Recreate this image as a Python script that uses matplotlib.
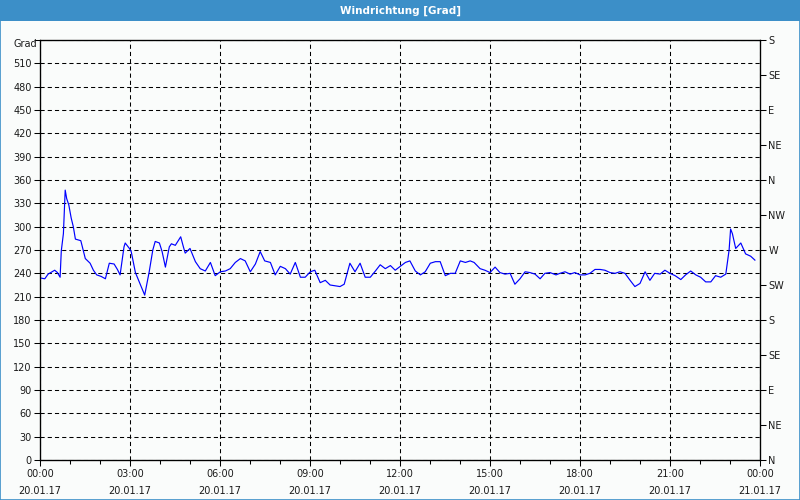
import numpy as np
import matplotlib
matplotlib.use("Agg")
import matplotlib.pyplot as plt
from matplotlib.patches import Rectangle
from matplotlib.ticker import MultipleLocator

plt.rcParams['font.family'] = ['DejaVu Sans']
plt.rcParams['lines.scale_dashes'] = False

# time of day in hours (20.01.17), wind direction in degrees
hours = [0.02, 0.16, 0.27, 0.36, 0.49, 0.58, 0.67, 0.71, 0.78, 0.84,
         0.89, 0.96, 1.04, 1.11, 1.18, 1.36, 1.44, 1.51, 1.67, 1.78,
         1.89, 2.04, 2.18, 2.31, 2.47, 2.58, 2.67, 2.80, 2.84, 2.98,
         3.04, 3.18, 3.33, 3.49, 3.64, 3.76, 3.84, 3.98, 4.07, 4.18,
         4.31, 4.38, 4.51, 4.69, 4.78, 4.84, 5.00, 5.18, 5.34, 5.51,
         5.68, 5.84, 6.01, 6.18, 6.34, 6.51, 6.68, 6.84, 7.01, 7.18,
         7.34, 7.49, 7.68, 7.84, 8.01, 8.18, 8.34, 8.51, 8.68, 8.84,
         9.01, 9.16, 9.34, 9.51, 9.67, 9.83, 10.00, 10.14, 10.33, 10.50,
         10.67, 10.84, 11.01, 11.18, 11.34, 11.51, 11.68, 11.84, 12.01, 12.18,
         12.33, 12.51, 12.68, 12.84, 13.01, 13.18, 13.34, 13.51, 13.68, 13.84,
         14.01, 14.18, 14.34, 14.47, 14.67, 14.83, 15.00, 15.17, 15.33, 15.50,
         15.67, 15.83, 16.00, 16.17, 16.33, 16.50, 16.67, 16.83, 17.00, 17.20,
         17.33, 17.50, 17.67, 17.83, 18.00, 18.17, 18.33, 18.50, 18.67, 18.83,
         19.00, 19.17, 19.33, 19.50, 19.67, 19.83, 20.00, 20.17, 20.33, 20.49,
         20.67, 20.83, 21.00, 21.17, 21.36, 21.52, 21.69, 21.86, 22.02, 22.19,
         22.36, 22.52, 22.69, 22.86, 22.97, 23.02, 23.08, 23.19, 23.36, 23.52,
         23.69, 23.83]
degrees = [234, 233, 239, 241, 244, 241, 235, 269, 291, 347,
           336, 328, 311, 300, 284, 282, 270, 259, 253, 244,
           238, 236, 233, 253, 252, 245, 238, 274, 279, 272,
           268, 241, 227, 212, 242, 270, 281, 279, 268, 248,
           274, 278, 276, 287, 274, 266, 272, 255, 246, 243,
           254, 237, 242, 243, 246, 254, 259, 256, 242, 252,
           268, 256, 254, 238, 249, 246, 239, 254, 235, 235,
           242, 244, 228, 231, 225, 224, 223, 226, 253, 242,
           253, 235, 235, 243, 251, 246, 250, 244, 249, 254,
           256, 243, 238, 242, 253, 255, 255, 237, 240, 240,
           256, 254, 256, 254, 246, 244, 241, 248, 241, 239,
           240, 226, 233, 242, 241, 239, 233, 240, 241, 238,
           240, 242, 239, 241, 238, 238, 240, 245, 245, 244,
           241, 240, 242, 240, 231, 223, 227, 242, 231, 240,
           239, 244, 240, 237, 232, 238, 243, 238, 235, 229,
           229, 237, 235, 239, 270, 297, 291, 272, 279, 265,
           262, 257]

time_labels = ["00:00", "03:00", "06:00", "09:00", "12:00",
               "15:00", "18:00", "21:00", "00:00"]
date_labels = ["20.01.17"] * 8 + ["21.01.17"]
compass = ["N", "NE", "E", "SE", "S", "SW", "W", "NW",
           "N", "NE", "E", "SE", "S"]

blue_bar = "#3c8fc8"
bg = "#fafcfb"

fig = plt.figure(figsize=(8, 5), dpi=100, facecolor=bg)
# title bar and frame
fig.patches.append(Rectangle((0, 1 - 21 / 500), 1, 21 / 500, transform=fig.transFigure,
                             facecolor=blue_bar, edgecolor="none", zorder=0))
fig.patches.append(Rectangle((0.0006, 0.001), 0.9988, 0.998, transform=fig.transFigure,
                             facecolor="none", edgecolor=blue_bar, lw=1.2, zorder=1))
fig.text(0.5, 1 - 10.5 / 500, "Windrichtung [Grad]", color="white", fontsize=7.5,
         fontweight="bold", ha="center", va="center")

ax = fig.add_axes([40 / 800, 40 / 500, 720 / 800, 420 / 500])
ax.set_facecolor(bg)
ax.plot(hours, degrees, color="#0000ff", lw=0.85, zorder=3)

ax.set_xlim(0, 24)
ax.set_ylim(0, 540)
ax.set_xticks(np.arange(0, 25, 3))
ax.set_xticklabels([f"{t}\n{d}" for t, d in zip(time_labels, date_labels)], linespacing=1.85)
ax.xaxis.set_minor_locator(MultipleLocator(1))
ax.set_yticks(np.arange(0, 541, 30))
ax.set_yticklabels([str(v) if v < 540 else "" for v in range(0, 541, 30)])

ax.grid(True, which="major", color="black", lw=0.75, linestyle=(0, (3, 2.2)))
ax.tick_params(axis="both", which="major", labelsize=7, length=4, width=0.75,
               color="black", labelcolor="#1a1a1a", pad=2)
ax.tick_params(axis="x", which="major", pad=2.5)
ax.tick_params(axis="x", which="minor", length=3, width=0.75)
for s in ax.spines.values():
    s.set_linewidth(0.9)
    s.set_color("black")

ax2 = ax.twinx()
ax2.set_ylim(0, 540)
ax2.set_yticks(np.arange(0, 541, 45))
ax2.set_yticklabels(compass)
ax2.tick_params(axis="y", labelsize=7, length=4, width=0.75, labelcolor="#1a1a1a", pad=2)

fig.text(37 / 800, 1 - 44 / 500, "Grad", fontsize=7, color="#1a1a1a", ha="right", va="center")

fig.savefig("out.png", dpi=100, facecolor=bg)
